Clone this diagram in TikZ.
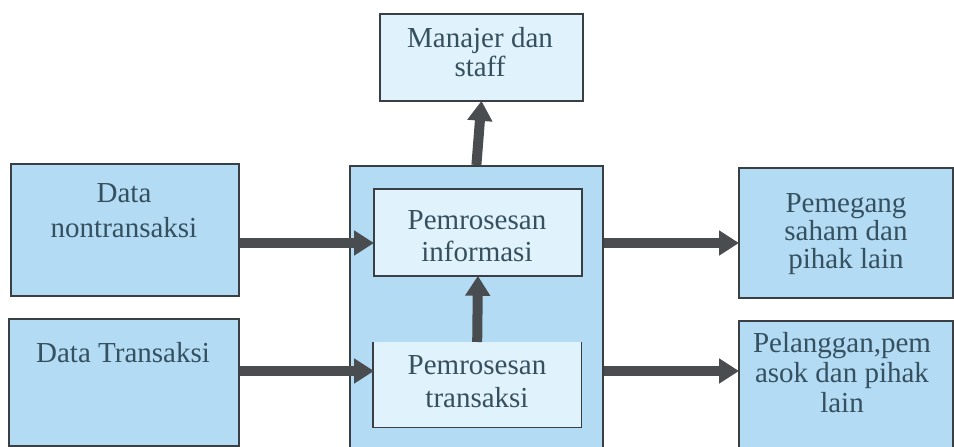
\documentclass[tikz,border=0pt]{standalone}
\usepackage{fontspec}
\setmainfont{Liberation Serif}
\usetikzlibrary{arrows.meta}
\definecolor{boxblue}{HTML}{B3DBF4}
\definecolor{paleblue}{HTML}{E0F2FB}
\definecolor{edge}{HTML}{3A3F44}
\definecolor{ink}{HTML}{35505E}
\definecolor{flow}{HTML}{4A4D50}
\tikzset{
  box/.style={draw=edge, line width=1.8pt, fill=boxblue, rectangle, inner sep=0pt, anchor=north west},
  innerbox/.style={box, fill=paleblue},
  label/.style={font=\fontsize{29}{31}\selectfont, text=ink, align=center, inner sep=0pt, anchor=north},
  flowarrow/.style={draw=flow, line width=10pt, -{Triangle[width=24pt,length=20pt]}, shorten >=-1pt},
}
\begin{document}
\begin{tikzpicture}[x=1pt, y=-1pt]
  \useasboundingbox (0,0) rectangle (954,447);
  \fill[white] (0,0) rectangle (954,447);
  \clip (0,0) rectangle (954,447);

  % outer processing block and its two stages
  \node[box, minimum width=253, minimum height=300] (big) at (349,165) {};
  \node[innerbox, minimum width=208, minimum height=87] (info) at (373,188) {};
  \node[rectangle, fill=paleblue, inner sep=0pt, anchor=north west, minimum width=208, minimum height=85] (trans) at (373,342) {};
  \draw[edge, line width=1.8pt] (trans.north west) -- (trans.south west) -- (trans.south east) -- (trans.north east);

  % surrounding sources and recipients
  \node[innerbox, minimum width=203, minimum height=87] (man) at (379,13) {};
  \node[box, minimum width=228, minimum height=132] (nontr) at (10,163) {};
  \node[box, minimum width=230, minimum height=127] (datatr) at (8,318) {};
  \node[box, minimum width=214, minimum height=130] (holder) at (738,167) {};
  \node[box, minimum width=214, minimum height=140] (cust) at (738,320) {};

  % texts
  \node[label, font=\fontsize{29}{29}\selectfont] (tman) at (480,27) {Manajer dan\\staff};
  \node[label, font=\fontsize{29}{35}\selectfont] (tnon) at (124,183) {Data\\nontransaksi};
  \node[label] (tdat) at (123,342) {Data Transaksi};
  \node[label, font=\fontsize{29}{32}\selectfont] (tinfo) at (477,210) {Pemrosesan\\informasi};
  \node[label, font=\fontsize{29}{33}\selectfont] (ttrans) at (477,355) {Pemrosesan\\transaksi};
  \node[label, font=\fontsize{29}{28}\selectfont] (thold) at (846,193) {Pemegang\\saham dan\\pihak lain};
  \node[label, font=\fontsize{29}{30}\selectfont] (tcust) at (842,332) {Pelanggan,pem\\asok dan pihak\\lain};

  % heights of the horizontal flows
  \coordinate (upper) at (0,243);
  \coordinate (lower) at (0,371);

  % flows
  \draw[flowarrow] (nontr.east |- upper) -- (info.west |- upper);
  \draw[flowarrow] (datatr.east |- lower) -- (trans.west |- lower);
  \draw[flowarrow] (big.east |- upper) -- (holder.west |- upper);
  \draw[flowarrow] (big.east |- lower) -- (cust.west |- lower);
  \draw[flowarrow] (trans.north) -- (info.south);
  \draw[flowarrow] (big.north) -- (man.south);
\end{tikzpicture}
\end{document}
